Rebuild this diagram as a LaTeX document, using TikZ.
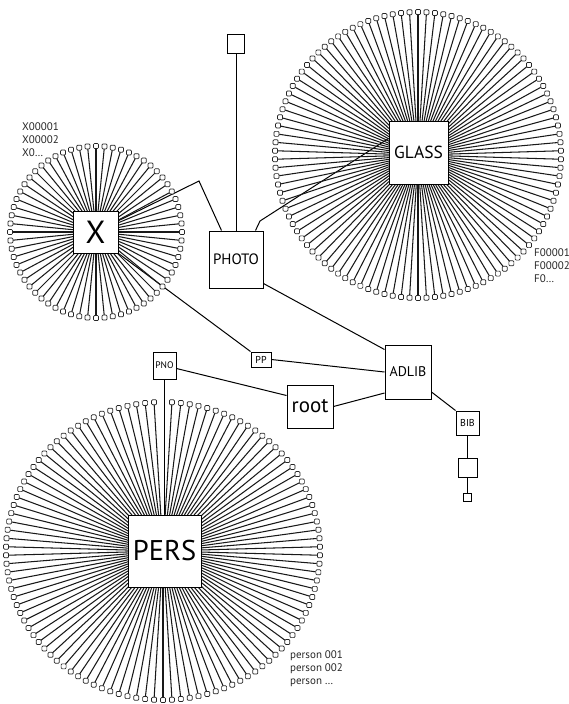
\documentclass[tikz,border=0pt]{standalone}
\usepackage{fontspec}
\setmainfont{PT Sans}
\pgfdeclarelayer{bg}
\pgfsetlayers{bg,main}
\tikzset{
  box/.style={draw, line width=1pt, fill=white, inner sep=0pt},
  spoke/.style={line width=1.05pt, draw=black!90},
  tipsq/.style={draw=black!85, line width=0.7pt, fill=white, rounded corners=1pt},
  conn/.style={line width=1pt},
  lbl/.style={inner sep=0pt, align=left, font=\fontsize{11}{13}\selectfont, text=black!85}
}
\newcommand\mystar[7]{% cx, cy, rx, ry, n, first index, last index
  \pgfmathsetmacro\stepang{360/#5}%
  \foreach \i in {#6,...,#7}{%
    \pgfmathsetmacro\ang{270+\stepang*\i}%
    \pgfmathsetmacro\ex{#1+(#3-2.7)*cos(\ang)}%
    \pgfmathsetmacro\ey{#2+(#4-2.7)*sin(\ang)}%
    \pgfmathsetmacro\tx{#1+#3*cos(\ang)}%
    \pgfmathsetmacro\ty{#2+#4*sin(\ang)}%
    \draw[spoke] (#1,#2) -- (\ex,\ey);
    \draw[tipsq] (\tx-2.5,\ty-2.5) rectangle (\tx+2.5,\ty+2.5);
  }%
}
\begin{document}
\begin{tikzpicture}[x=1pt,y=-1pt]
\useasboundingbox (0,0) rectangle (568,704);
% boxes
\node[box, minimum width=59pt, minimum height=63pt, font=\fontsize{17.5}{17.5}\selectfont] (glass) at (418.5,152.5) {GLASS};
\node[box, minimum width=45pt, minimum height=42pt, font=\fontsize{32}{32}\selectfont] (xbox) at (95.5,232) {X};
\node[box, minimum width=73pt, minimum height=72pt, font=\fontsize{28.5}{28.5}\selectfont] (pers) at (164.5,551) {PERS};
\node[box, minimum width=54pt, minimum height=57pt, font=\fontsize{15}{15}\selectfont] (photo) at (236,259.5) {PHOTO};
\node[box, minimum width=17pt, minimum height=19pt] (top) at (236,44) {};
\node[box, minimum width=46pt, minimum height=54pt, font=\fontsize{14}{14}\selectfont] (adlib) at (408,372) {ADLIB};
\node[box, minimum width=20pt, minimum height=15pt, font=\fontsize{10}{10}\selectfont] (pp) at (261,359.5) {PP};
\node[box, minimum width=23pt, minimum height=27pt, font=\fontsize{9.5}{9.5}\selectfont] (pno) at (164.5,365.5) {PNO};
\node[box, minimum width=46pt, minimum height=43pt, font=\fontsize{21}{21}\selectfont] (root) at (310,406.5) {root};
\node[box, minimum width=23pt, minimum height=24pt, font=\fontsize{10}{10}\selectfont] (bib) at (467.5,423) {BIB};
\node[box, minimum width=19pt, minimum height=19pt] (bibsub) at (467.5,467.5) {};
\node[box, minimum width=8pt, minimum height=8pt, line width=0.8pt] (bibend) at (467.5,497) {};
% labels
\node[lbl, anchor=north west] (xlab) at (22,122) {X00001\\X00002\\X0…};
\node[lbl, anchor=north west] (flab) at (534,248) {F00001\\F00002\\F0…};
\node[lbl, anchor=north west] (plab) at (290,650) {person 001\\person 002\\person …};
\begin{pgfonlayer}{bg}
% connectors
\draw[conn] (xbox.center) -- (199,181) -- ([xshift=13pt]photo.north west);
\draw[conn] (top.south) -- (top.south |- photo.north);
\draw[conn] ([xshift=-8pt]photo.north east) -- (260,221) -- ([yshift=14pt]glass.west);
\draw[conn] ([yshift=5pt]photo.south east) -- ([yshift=-5pt]adlib.north west);
\draw[conn] (xbox.south east) -- (pp.north west);
\draw[conn] (pp.east) -- (adlib.west);
\draw[conn] ([yshift=-3pt]pno.east) -- ([yshift=11pt]root.west);
\draw[conn] (root.east) -- ([yshift=-21pt]adlib.west);
\draw[conn] ([yshift=-20pt]adlib.east) -- (bib.north west);
\draw[conn] (bib.south) -- (bibsub.north);
\draw[conn] (bibsub.south) -- (bibend.north);
\draw[conn] (pno.south) -- (pno.south |- pers.north);
% stars
\mystar{418}{155}{143}{143}{106}{0}{105}
\mystar{96}{232}{86}{86}{64}{0}{63}
\mystar{163}{551}{157}{149}{110}{1}{109}
\end{pgfonlayer}
\end{tikzpicture}
\end{document}
